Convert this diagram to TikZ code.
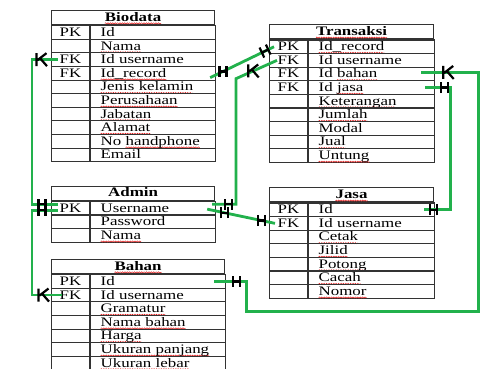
\documentclass[tikz,border=0pt]{standalone}
\usepackage{fontspec}
\setmainfont{Liberation Serif}[FakeStretch=1.3]
\usepackage{tikz}
\usetikzlibrary{calc, decorations.pathmorphing}

\definecolor{relgreen}{HTML}{22B14C}
\definecolor{sqred}{HTML}{E02020}

% garis merah bergelombang di bawah kata
\newlength\sqw
\newcommand\sq[1]{\settowidth{\sqw}{#1}\rlap{\tikz[overlay, baseline=0pt]
    \draw[sqred, line width=0.5pt, decorate, decoration={snake, amplitude=0.6pt, segment length=2.4pt}]
    (0pt,-2.2pt) -- (\sqw,-2.2pt);}#1}

\begin{document}
\begin{tikzpicture}[
        x=1pt, y=1pt,
        % ================= gaya sel tabel =================
        cell/.style={
            rectangle,
            draw=black!80,        % garis tabel
            line width=1.1pt,
            inner sep=0pt,
            anchor=north west,
            font=\fontsize{13}{14}\selectfont
        },
        head/.style={cell, minimum width=#1, minimum height=14pt,
            text height=10.6pt, text depth=3.4pt,
            font=\fontsize{13}{14}\selectfont\bfseries},
        keycell/.style={cell, minimum width=38pt, minimum height=13.6pt,
            text height=10.8pt, text depth=2.8pt},
        fieldcell/.style={keycell, text width=#1, inner xsep=10pt, align=left},
        % ================= gaya relasi =================
        rel/.style={draw=relgreen, line width=2.8pt},
        crow/.style={draw=black, line width=2.2pt},
        one/.pic={\draw[crow] (-3.5pt,-5.5pt) -- (-3.5pt,5.5pt)
            (3.5pt,-5.5pt) -- (3.5pt,5.5pt) (-3.5pt,0pt) -- (3.5pt,0pt);},
        many/.pic={\draw[crow] (-5pt,-6.5pt) -- (-5pt,6.5pt)
            (-4pt,-0.5pt) -- (5pt,6.5pt) (-1.5pt,1.5pt) -- (5.5pt,-6.5pt);}
    ]
    \path[use as bounding box, fill=white] (0,0) rectangle (480,368);

    % ================= Biodata =================
    \node[head=163pt] (bio) at (51,358) {\sq{Biodata}};
    \foreach \kc/\fc [count=\i] in {PK/Id, /\sq{Nama}, FK/Id username, FK/\sq{Id\_record},
            /\sq{Jenis kelamin}, /\sq{Perusahaan}, /\sq{Jabatan}, /\sq{Alamat},
            /No \sq{handphone}, /Email} {
        \node[keycell] (bio-k\i) at ([yshift={-(\i-1)*13.6pt}]bio.south west) {\kc};
        \node[fieldcell=105pt] (bio-\i) at (bio-k\i.north east) {\fc};
    }

    % ================= Transaksi =================
    \node[head=164pt] (tra) at (269,343.7) {\sq{Transaksi}};
    \foreach \kc/\fc [count=\i] in {PK/\sq{Id\_record}, FK/Id username, FK/Id \sq{bahan},
            FK/Id \sq{jasa}, /\sq{Keterangan}, /\sq{Jumlah}, /Modal, /\sq{Jual}, /\sq{Untung}} {
        \node[keycell] (tra-k\i) at ([yshift={-(\i-1)*13.6pt}]tra.south west) {\kc};
        \node[fieldcell=106pt] (tra-\i) at (tra-k\i.north east) {\fc};
    }

    % ================= Admin =================
    \node[head=163pt] (adm) at (51,182.3) {Admin};
    \foreach \kc/\fc [count=\i] in {PK/Username, /Password, /\sq{Nama}} {
        \node[keycell] (adm-k\i) at ([yshift={-(\i-1)*13.6pt}]adm.south west) {\kc};
        \node[fieldcell=105pt] (adm-\i) at (adm-k\i.north east) {\fc};
    }

    % ================= Jasa =================
    \node[head=164pt] (jas) at (269,180.7) {\sq{Jasa}};
    \foreach \kc/\fc [count=\i] in {PK/Id, FK/Id username, /\sq{Cetak}, /\sq{Jilid},
            /\sq{Potong}, /\sq{Cacah}, /\sq{Nomor}} {
        \node[keycell] (jas-k\i) at ([yshift={-(\i-1)*13.6pt}]jas.south west) {\kc};
        \node[fieldcell=106pt] (jas-\i) at (jas-k\i.north east) {\fc};
    }

    % ================= Bahan =================
    \node[head=173pt] (bah) at (51,109) {\sq{Bahan}};
    \foreach \kc/\fc [count=\i] in {PK/Id, FK/Id username, /\sq{Gramatur}, /\sq{Nama bahan},
            /\sq{Harga}, /\sq{Ukuran panjang}, /\sq{Ukuran lebar}} {
        \node[keycell] (bah-k\i) at ([yshift={-(\i-1)*13.6pt}]bah.south west) {\kc};
        \node[fieldcell=115pt] (bah-\i) at (bah-k\i.north east) {\fc};
    }

    % ================= relasi =================
    \draw[rel] ([shift={(7pt,4pt)}]adm-k1.west) -- ++(-26pt,0) |- ([xshift=7pt]bio-k3.west);
    \draw[rel] ([shift={(7pt,-2pt)}]adm-k1.west) -- ++(-26pt,0) |- ([xshift=11pt]bah-k2.west);
    \draw[rel] ([shift={(-4pt,4pt)}]adm-1.east) -| ([shift={(-33pt,-18.3pt)}]tra-k2.west) coordinate (c3)
        -- ([xshift=8pt]tra-k2.west) coordinate (t2);
    \draw[rel] ([shift={(-9pt,-1pt)}]adm-1.east) coordinate (a4) -- ([xshift=6pt]jas-k2.west) coordinate (j2);
    \draw[rel] ([shift={(-6pt,-4.4pt)}]bio-4.east) coordinate (b4) -- ([xshift=5pt]tra-k1.west) coordinate (t1);
    \draw[rel] ([shift={(-14pt,1.5pt)}]tra-3.east) -- ++(57pt,0) |- ([shift={(20pt,-30pt)}]bah-1.east)
        |- ([xshift=-12pt]bah-1.east);
    \draw[rel] ([xshift=-10pt]tra-4.east) -- ++(25pt,0) |- ([xshift=-11pt]jas-1.east);

    % ================= penanda kardinalitas =================
    \pic at ([xshift=-9.5pt]bio-k3.west) {many};
    \pic at ([shift={(-9pt,4pt)}]adm-k1.west) {one};
    \pic at ([shift={(-9pt,-2pt)}]adm-k1.west) {one};
    \pic at ([xshift=-7.5pt]bah-k2.west) {many};
    \pic at ([shift={(12pt,4pt)}]adm-1.east) {one};
    \pic at ($(c3)!0.42!(t2)$) {many};
    \pic at ($(a4)!0.25!(j2)$) {one};
    \pic at ($(a4)!0.8!(j2)$) {one};
    \pic at ($(b4)!0.2!(t1)$) {one};
    \pic[rotate=25] at ($(b4)!0.86!(t1)$) {one};
    \pic at ([shift={(13pt,1.5pt)}]tra-3.east) {many};
    \pic at ([xshift=10pt]bah-1.east) {one};
    \pic at ([xshift=9pt]tra-4.east) {one};
    \pic at ([xshift=-1.5pt]jas-1.east) {one};
\end{tikzpicture}
\end{document}
